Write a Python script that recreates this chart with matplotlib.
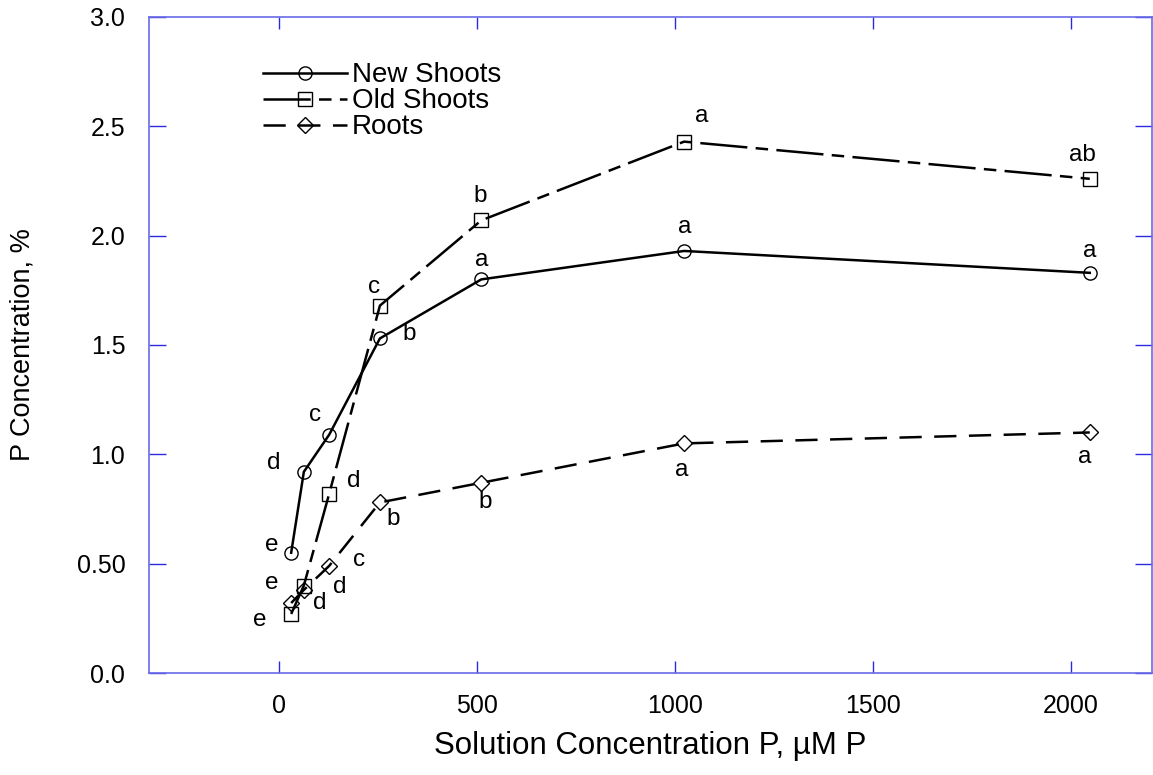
import numpy as np
import matplotlib
matplotlib.use('Agg')
import matplotlib.pyplot as plt

plt.rcParams['font.family'] = ['Liberation Sans', 'DejaVu Sans']
plt.rcParams['lines.scale_dashes'] = False

# data
conc = [32, 64, 128, 256, 512, 1024, 2048]
new_shoots = [0.55, 0.92, 1.09, 1.53, 1.80, 1.93, 1.83]
old_shoots = [0.27, 0.40, 0.82, 1.68, 2.07, 2.43, 2.26]
roots = [0.32, 0.38, 0.49, 0.78, 0.87, 1.05, 1.10]

new_letters = ['e', 'd', 'c', 'b', 'a', 'a', 'a']
old_letters = ['e', 'e', 'd', 'c', 'b', 'a', 'ab']
root_letters = ['d', 'd', 'c', 'b', 'b', 'a', 'a']

x_ticks = [0, 500, 1000, 1500, 2000]
y_ticks = [0, 0.5, 1.0, 1.5, 2.0, 2.5, 3.0]
y_ticklabels = ['0.0', '0.50', '1.0', '1.5', '2.0', '2.5', '3.0']

# label offsets (pixels, right / up) for each letter
new_off = [(-19, 8), (-30, 9), (-14, 20), (29, 4), (0, 19), (1, 24), (0, 22)]
old_off = [(-31, -6), (-32, 3), (25, 13), (-6, 19), (-1, 24), (18, 26), (-7, 24)]
root_off = [(29, 0), (36, 3), (30, 6), (13, -17), (4, -19), (-2, -27), (-5, -25)]

blue_spine = '#6a6ae8'
blue_tick = '#2a2ae0'

fig = plt.figure(figsize=(11.53, 7.75), dpi=100)
ax = fig.add_axes([0.1292, 0.1316, 0.8699, 0.8465])

mk = dict(mfc='none', mec='black', mew=1.0, color='black', lw=1.8)
ax.plot(conc, new_shoots, marker='o', ms=9.5, ls='-', label='New Shoots', **mk)
ax.plot(conc, old_shoots, marker='s', ms=10, dashes=(34, 6, 9, 6), label='Old Shoots', **mk)
ax.plot(conc, roots, marker='D', ms=8, dashes=(16, 9), label='Roots', **mk)

for ys, labs, offs in [(new_shoots, new_letters, new_off),
                       (old_shoots, old_letters, old_off),
                       (roots, root_letters, root_off)]:
    for xv, yv, t, (dx, dy) in zip(conc, ys, labs, offs):
        ax.annotate(t, (xv, yv), xytext=(dx * 0.72, dy * 0.72), textcoords='offset points',
                    ha='center', va='center', fontsize=17.5)

ax.set_xlim(-327, 2205)
ax.set_ylim(0, 3.0)
ax.set_xticks(x_ticks)
ax.set_yticks(y_ticks)
ax.set_yticklabels(y_ticklabels)

ax.tick_params(axis='x', direction='in', length=8.6, width=1, color=blue_tick,
               top=True, pad=15, labelsize=18)
ax.tick_params(axis='y', direction='in', length=12, width=1, color=blue_tick,
               right=True, pad=17, labelsize=18)
for s in ax.spines.values():
    s.set_color(blue_spine)
    s.set_linewidth(1.2)

ax.set_xlabel('Solution Concentration P, µM P', fontsize=22.5)
ax.xaxis.set_label_coords(0.5, -0.088)
ax.set_ylabel('P Concentration, %', fontsize=19.5)
ax.yaxis.set_label_coords(-0.113, 0.5)

ax.legend(loc='upper left', bbox_to_anchor=(0.114, 0.931), frameon=False, fontsize=20,
          handlelength=3.0, handletextpad=0.2, labelspacing=0.0, borderpad=0,
          borderaxespad=0)

fig.savefig('out.png', dpi=100)
